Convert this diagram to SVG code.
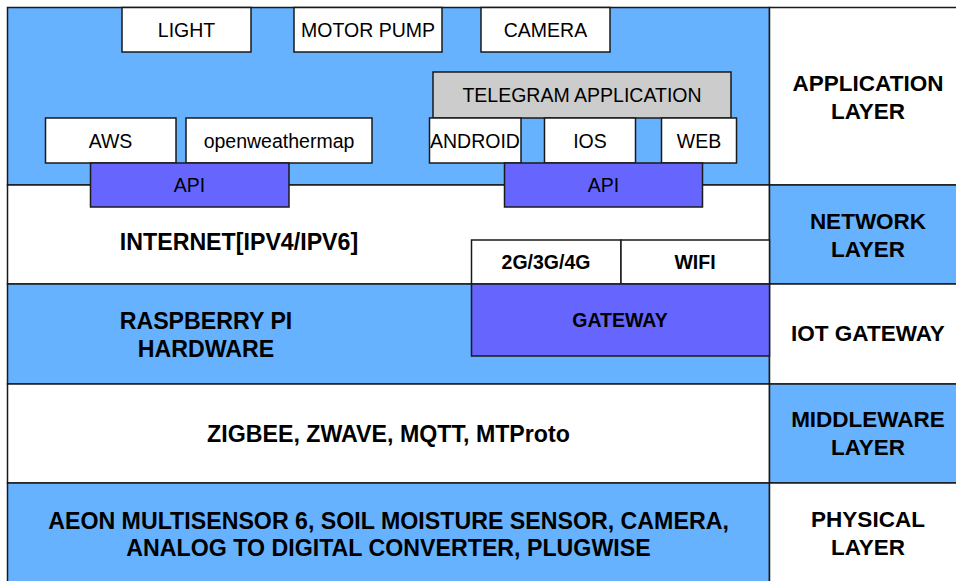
<svg xmlns="http://www.w3.org/2000/svg" width="956" height="581" viewBox="0 0 956 581">
<style>
.b{fill:#66B2FF;stroke:#1a1a1a;stroke-width:1.5}
.w{fill:#FFFFFF;stroke:#1a1a1a;stroke-width:1.5}
.p{fill:#6666FF;stroke:#1a1a1a;stroke-width:1.5}
.g{fill:#CCCCCC;stroke:#1a1a1a;stroke-width:1.5}
text{font-family:"Liberation Sans",Arial,Helvetica,sans-serif;fill:#000;text-anchor:middle}
.r{font-size:19.5px}
.k{font-size:22.5px;font-weight:bold}
.m{font-size:23.2px;font-weight:bold}
.s{font-size:19.5px;font-weight:bold}
</style>
<rect width="956" height="581" fill="#FFFFFF"/>
<g id="layers">
<g id="app-row"><rect class="b" x="7.5" y="7.5" width="762" height="177.5"/><rect class="w" x="769.5" y="7.5" width="200" height="177.5"/>
<text class="k" x="868" y="91">APPLICATION</text><text class="k" x="868" y="119">LAYER</text></g>
<g id="net-row"><rect class="w" x="7.5" y="185" width="762" height="99"/><rect class="b" x="769.5" y="185" width="200" height="99"/>
<text class="m" x="239" y="250">INTERNET[IPV4/IPV6]</text>
<text class="k" x="868" y="229">NETWORK</text><text class="k" x="868" y="257">LAYER</text></g>
<g id="iot-row"><rect class="b" x="7.5" y="284" width="762" height="100"/><rect class="w" x="769.5" y="284" width="200" height="100"/>
<text class="m" x="206" y="329">RASPBERRY PI</text><text class="m" x="206" y="357">HARDWARE</text>
<text class="k" x="868" y="341">IOT GATEWAY</text></g>
<g id="mid-row"><rect class="w" x="7.5" y="384" width="762" height="99"/><rect class="b" x="769.5" y="384" width="200" height="99"/>
<text class="m" x="388.5" y="442">ZIGBEE, ZWAVE, MQTT, MTProto</text>
<text class="k" x="868" y="427">MIDDLEWARE</text><text class="k" x="868" y="455">LAYER</text></g>
<g id="phy-row"><rect class="b" x="7.5" y="483" width="762" height="110"/><rect class="w" x="769.5" y="483" width="200" height="110"/>
<text class="m" x="388.5" y="529">AEON MULTISENSOR 6, SOIL MOISTURE SENSOR, CAMERA,</text>
<text class="m" x="388.5" y="556">ANALOG TO DIGITAL CONVERTER, PLUGWISE</text>
<text class="k" x="868" y="527">PHYSICAL</text><text class="k" x="868" y="555">LAYER</text></g>
</g>
<g id="light"><rect class="w" x="122" y="7.5" width="129" height="44.5"/><text class="r" x="186.5" y="36.5">LIGHT</text></g>
<g id="motor-pump"><rect class="w" x="294" y="7.5" width="148" height="44.5"/><text class="r" x="368" y="36.5">MOTOR PUMP</text></g>
<g id="camera"><rect class="w" x="481" y="7.5" width="129" height="44.5"/><text class="r" x="545.5" y="36.5">CAMERA</text></g>
<g id="telegram"><rect class="g" x="433" y="72" width="298" height="46"/><text class="r" x="582" y="101.5">TELEGRAM APPLICATION</text></g>
<g id="aws"><rect class="w" x="45.5" y="118" width="130.5" height="45"/><text class="r" x="110.5" y="147.5">AWS</text></g>
<g id="openweathermap"><rect class="w" x="186" y="118" width="186" height="45"/><text class="r" x="279" y="147.5">openweathermap</text></g>
<g id="android"><rect class="w" x="429.5" y="118" width="91.5" height="45"/><text class="r" x="475" y="147.5">ANDROID</text></g>
<g id="ios"><rect class="w" x="544.5" y="118" width="91" height="45"/><text class="r" x="590" y="147.5">IOS</text></g>
<g id="web"><rect class="w" x="661.5" y="118" width="75" height="45"/><text class="r" x="699" y="147.5">WEB</text></g>
<g id="api-left"><rect class="p" x="90.5" y="163" width="198.5" height="44"/><text class="r" x="189.5" y="191.5">API</text></g>
<g id="api-right"><rect class="p" x="504.5" y="163" width="198" height="44"/><text class="r" x="603.5" y="191.5">API</text></g>
<g id="net-2g"><rect class="w" x="471.5" y="240" width="149.5" height="44"/><text class="s" x="546" y="269">2G/3G/4G</text></g>
<g id="wifi"><rect class="w" x="621" y="240" width="148.5" height="44"/><text class="s" x="695" y="269">WIFI</text></g>
<g id="gateway"><rect class="p" x="471.5" y="284" width="298" height="72"/><text class="s" x="620" y="327">GATEWAY</text></g>
<g id="connectors"></g>
</svg>
